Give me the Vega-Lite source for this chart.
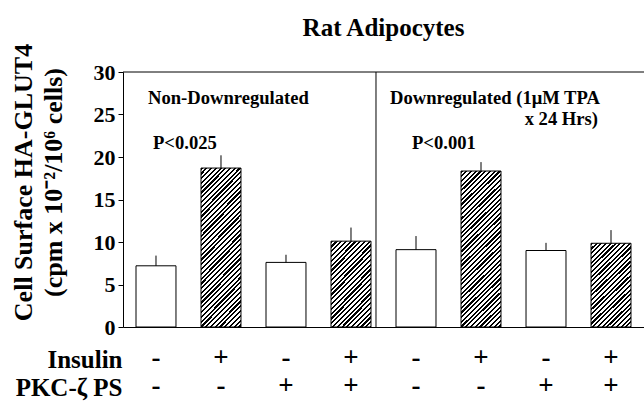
{
  "$schema": "https://vega.github.io/schema/vega-lite/v6.json",
  "width": 521,
  "height": 255,
  "autosize": {"type": "none"},
  "padding": {"left": 123, "top": 72, "right": 0, "bottom": 80},
  "config": {"view": {"stroke": null}, "font": "Liberation Serif"},
  "title": {"text": "Rat Adipocytes", "fontSize": 25, "fontWeight": "bold", "font": "Liberation Serif", "anchor": "middle", "frame": "group", "baseline": "alphabetic", "offset": -18, "color": "black"},
  "data": {"values": [
    {"id": "1|-|-", "group": "Non-Downregulated", "ins": "-", "pkc": "-", "value": 7.2, "upper": 8.4},
    {"id": "2|+|-", "group": "Non-Downregulated", "ins": "+", "pkc": "-", "value": 18.7, "upper": 20.2},
    {"id": "3|-|+", "group": "Non-Downregulated", "ins": "-", "pkc": "+", "value": 7.6, "upper": 8.5},
    {"id": "4|+|+", "group": "Non-Downregulated", "ins": "+", "pkc": "+", "value": 10.1, "upper": 11.7},
    {"id": "5|-|-", "group": "Downregulated", "ins": "-", "pkc": "-", "value": 9.1, "upper": 10.7},
    {"id": "6|+|-", "group": "Downregulated", "ins": "+", "pkc": "-", "value": 18.35, "upper": 19.4},
    {"id": "7|-|+", "group": "Downregulated", "ins": "-", "pkc": "+", "value": 9.0, "upper": 9.9},
    {"id": "8|+|+", "group": "Downregulated", "ins": "+", "pkc": "+", "value": 9.85, "upper": 11.4}
  ]},
  "layer": [
    {
      "mark": {"type": "bar", "stroke": "black", "strokeWidth": 1},
      "encoding": {
        "x": {"field": "id", "type": "nominal", "sort": null,
          "scale": {"domain": ["1|-|-", "2|+|-", "3|-|+", "4|+|+", "5|-|-", "6|+|-", "7|-|+", "8|+|+"], "paddingInner": 0.385, "paddingOuter": 0.2},
          "axis": {
            "title": ["Insulin", "PKC-ζ PS"], "titleFont": "Liberation Serif", "titleFontSize": 25, "titleFontWeight": "bold", "titleColor": "black",
            "titleAlign": "right", "titleX": -1, "titleY": 20, "titleBaseline": "top", "titleLineHeight": 28, "titleAngle": 0,
            "labelExpr": "slice(split(datum.label, '|'), 1)", "labelAngle": 0, "labelAlign": "center", "labelFont": "Liberation Serif", "labelFontSize": 27,
            "labelFontWeight": "bold", "labelColor": "black", "labelBaseline": "top", "labelLineHeight": 28, "labelPadding": 17,
            "ticks": false, "domainColor": "black", "domainWidth": 1, "labelOverlap": false
          }
        },
        "y": {"field": "value", "type": "quantitative",
          "scale": {"domain": [0, 30], "nice": false},
          "axis": {
            "title": ["Cell Surface HA-GLUT4", "(cpm x 10⁻²/10⁶ cells)"], "titleFont": "Liberation Serif", "titleFontSize": 26, "titleFontWeight": "bold", "titleColor": "black",
            "titleAngle": -90, "titleAlign": "center", "titleBaseline": "top", "titleX": -113, "titleY": 110, "titleLineHeight": 30,
            "values": [0, 5, 10, 15, 20, 25, 30], "labelFont": "Liberation Serif", "labelFontSize": 22, "labelFontWeight": "bold", "labelColor": "black",
            "tickColor": "black", "tickSize": 5, "labelPadding": 3, "domainColor": "black", "grid": false
          }
        },
        "fill": {
          "condition": [
            {"test": "datum.ins == '+' && datum.value > 15", "value": {"gradient": "linear", "x1": 0, "y1": 0, "x2": 0.299, "y2": 1.178, "stops": [
              {"offset": 0, "color": "#000"}, {"offset": 0.011, "color": "#000"}, {"offset": 0.011, "color": "#fff"},
              {"offset": 0.024, "color": "#fff"}, {"offset": 0.024, "color": "#000"}, {"offset": 0.035, "color": "#000"}, {"offset": 0.035, "color": "#fff"},
              {"offset": 0.048, "color": "#fff"}, {"offset": 0.048, "color": "#000"}, {"offset": 0.059, "color": "#000"}, {"offset": 0.059, "color": "#fff"},
              {"offset": 0.072, "color": "#fff"}, {"offset": 0.072, "color": "#000"}, {"offset": 0.083, "color": "#000"}, {"offset": 0.083, "color": "#fff"},
              {"offset": 0.096, "color": "#fff"}, {"offset": 0.096, "color": "#000"}, {"offset": 0.107, "color": "#000"}, {"offset": 0.107, "color": "#fff"},
              {"offset": 0.12, "color": "#fff"}, {"offset": 0.12, "color": "#000"}, {"offset": 0.131, "color": "#000"}, {"offset": 0.131, "color": "#fff"},
              {"offset": 0.144, "color": "#fff"}, {"offset": 0.144, "color": "#000"}, {"offset": 0.155, "color": "#000"}, {"offset": 0.155, "color": "#fff"},
              {"offset": 0.168, "color": "#fff"}, {"offset": 0.168, "color": "#000"}, {"offset": 0.179, "color": "#000"}, {"offset": 0.179, "color": "#fff"},
              {"offset": 0.192, "color": "#fff"}, {"offset": 0.192, "color": "#000"}, {"offset": 0.203, "color": "#000"}, {"offset": 0.203, "color": "#fff"},
              {"offset": 0.216, "color": "#fff"}, {"offset": 0.216, "color": "#000"}, {"offset": 0.227, "color": "#000"}, {"offset": 0.227, "color": "#fff"},
              {"offset": 0.24, "color": "#fff"}, {"offset": 0.24, "color": "#000"}, {"offset": 0.251, "color": "#000"}, {"offset": 0.251, "color": "#fff"},
              {"offset": 0.264, "color": "#fff"}, {"offset": 0.264, "color": "#000"}, {"offset": 0.275, "color": "#000"}, {"offset": 0.275, "color": "#fff"},
              {"offset": 0.288, "color": "#fff"}, {"offset": 0.288, "color": "#000"}, {"offset": 0.299, "color": "#000"}, {"offset": 0.299, "color": "#fff"},
              {"offset": 0.312, "color": "#fff"}, {"offset": 0.312, "color": "#000"}, {"offset": 0.323, "color": "#000"}, {"offset": 0.323, "color": "#fff"},
              {"offset": 0.336, "color": "#fff"}, {"offset": 0.336, "color": "#000"}, {"offset": 0.347, "color": "#000"}, {"offset": 0.347, "color": "#fff"},
              {"offset": 0.36, "color": "#fff"}, {"offset": 0.36, "color": "#000"}, {"offset": 0.371, "color": "#000"}, {"offset": 0.371, "color": "#fff"},
              {"offset": 0.384, "color": "#fff"}, {"offset": 0.384, "color": "#000"}, {"offset": 0.395, "color": "#000"}, {"offset": 0.395, "color": "#fff"},
              {"offset": 0.408, "color": "#fff"}, {"offset": 0.408, "color": "#000"}, {"offset": 0.419, "color": "#000"}, {"offset": 0.419, "color": "#fff"},
              {"offset": 0.432, "color": "#fff"}, {"offset": 0.432, "color": "#000"}, {"offset": 0.443, "color": "#000"}, {"offset": 0.443, "color": "#fff"},
              {"offset": 0.456, "color": "#fff"}, {"offset": 0.456, "color": "#000"}, {"offset": 0.467, "color": "#000"}, {"offset": 0.467, "color": "#fff"},
              {"offset": 0.48, "color": "#fff"}, {"offset": 0.48, "color": "#000"}, {"offset": 0.491, "color": "#000"}, {"offset": 0.491, "color": "#fff"},
              {"offset": 0.504, "color": "#fff"}, {"offset": 0.504, "color": "#000"}, {"offset": 0.515, "color": "#000"}, {"offset": 0.515, "color": "#fff"},
              {"offset": 0.528, "color": "#fff"}, {"offset": 0.528, "color": "#000"}, {"offset": 0.539, "color": "#000"}, {"offset": 0.539, "color": "#fff"},
              {"offset": 0.552, "color": "#fff"}, {"offset": 0.552, "color": "#000"}, {"offset": 0.563, "color": "#000"}, {"offset": 0.563, "color": "#fff"},
              {"offset": 0.576, "color": "#fff"}, {"offset": 0.576, "color": "#000"}, {"offset": 0.587, "color": "#000"}, {"offset": 0.587, "color": "#fff"},
              {"offset": 0.6, "color": "#fff"}, {"offset": 0.6, "color": "#000"}, {"offset": 0.611, "color": "#000"}, {"offset": 0.611, "color": "#fff"},
              {"offset": 0.624, "color": "#fff"}, {"offset": 0.624, "color": "#000"}, {"offset": 0.635, "color": "#000"}, {"offset": 0.635, "color": "#fff"},
              {"offset": 0.648, "color": "#fff"}, {"offset": 0.648, "color": "#000"}, {"offset": 0.659, "color": "#000"}, {"offset": 0.659, "color": "#fff"},
              {"offset": 0.672, "color": "#fff"}, {"offset": 0.672, "color": "#000"}, {"offset": 0.683, "color": "#000"}, {"offset": 0.683, "color": "#fff"},
              {"offset": 0.696, "color": "#fff"}, {"offset": 0.696, "color": "#000"}, {"offset": 0.707, "color": "#000"}, {"offset": 0.707, "color": "#fff"},
              {"offset": 0.72, "color": "#fff"}, {"offset": 0.72, "color": "#000"}, {"offset": 0.731, "color": "#000"}, {"offset": 0.731, "color": "#fff"},
              {"offset": 0.744, "color": "#fff"}, {"offset": 0.744, "color": "#000"}, {"offset": 0.755, "color": "#000"}, {"offset": 0.755, "color": "#fff"},
              {"offset": 0.768, "color": "#fff"}, {"offset": 0.768, "color": "#000"}, {"offset": 0.779, "color": "#000"}, {"offset": 0.779, "color": "#fff"},
              {"offset": 0.792, "color": "#fff"}, {"offset": 0.792, "color": "#000"}, {"offset": 0.803, "color": "#000"}, {"offset": 0.803, "color": "#fff"},
              {"offset": 0.816, "color": "#fff"}, {"offset": 0.816, "color": "#000"}, {"offset": 0.827, "color": "#000"}, {"offset": 0.827, "color": "#fff"},
              {"offset": 0.84, "color": "#fff"}, {"offset": 0.84, "color": "#000"}, {"offset": 0.851, "color": "#000"}, {"offset": 0.851, "color": "#fff"},
              {"offset": 0.864, "color": "#fff"}, {"offset": 0.864, "color": "#000"}, {"offset": 0.875, "color": "#000"}, {"offset": 0.875, "color": "#fff"},
              {"offset": 0.888, "color": "#fff"}, {"offset": 0.888, "color": "#000"}, {"offset": 0.899, "color": "#000"}, {"offset": 0.899, "color": "#fff"},
              {"offset": 0.912, "color": "#fff"}, {"offset": 0.912, "color": "#000"}, {"offset": 0.923, "color": "#000"}, {"offset": 0.923, "color": "#fff"},
              {"offset": 0.936, "color": "#fff"}, {"offset": 0.936, "color": "#000"}, {"offset": 0.947, "color": "#000"}, {"offset": 0.947, "color": "#fff"},
              {"offset": 0.96, "color": "#fff"}, {"offset": 0.96, "color": "#000"}, {"offset": 0.971, "color": "#000"}, {"offset": 0.971, "color": "#fff"},
              {"offset": 0.984, "color": "#fff"}, {"offset": 0.984, "color": "#000"}, {"offset": 0.995, "color": "#000"}, {"offset": 0.995, "color": "#fff"},
              {"offset": 1, "color": "#fff"}
            ]}},
            {"test": "datum.ins == '+'", "value": {"gradient": "linear", "x1": 0, "y1": 0, "x2": 0.567, "y2": 1.204, "stops": [
              {"offset": 0, "color": "#000"}, {"offset": 0.0175, "color": "#000"}, {"offset": 0.0175, "color": "#fff"},
              {"offset": 0.038, "color": "#fff"}, {"offset": 0.038, "color": "#000"}, {"offset": 0.0555, "color": "#000"}, {"offset": 0.0555, "color": "#fff"},
              {"offset": 0.076, "color": "#fff"}, {"offset": 0.076, "color": "#000"}, {"offset": 0.0935, "color": "#000"}, {"offset": 0.0935, "color": "#fff"},
              {"offset": 0.114, "color": "#fff"}, {"offset": 0.114, "color": "#000"}, {"offset": 0.1315, "color": "#000"}, {"offset": 0.1315, "color": "#fff"},
              {"offset": 0.152, "color": "#fff"}, {"offset": 0.152, "color": "#000"}, {"offset": 0.1695, "color": "#000"}, {"offset": 0.1695, "color": "#fff"},
              {"offset": 0.19, "color": "#fff"}, {"offset": 0.19, "color": "#000"}, {"offset": 0.2075, "color": "#000"}, {"offset": 0.2075, "color": "#fff"},
              {"offset": 0.228, "color": "#fff"}, {"offset": 0.228, "color": "#000"}, {"offset": 0.2455, "color": "#000"}, {"offset": 0.2455, "color": "#fff"},
              {"offset": 0.266, "color": "#fff"}, {"offset": 0.266, "color": "#000"}, {"offset": 0.2835, "color": "#000"}, {"offset": 0.2835, "color": "#fff"},
              {"offset": 0.304, "color": "#fff"}, {"offset": 0.304, "color": "#000"}, {"offset": 0.3215, "color": "#000"}, {"offset": 0.3215, "color": "#fff"},
              {"offset": 0.342, "color": "#fff"}, {"offset": 0.342, "color": "#000"}, {"offset": 0.3595, "color": "#000"}, {"offset": 0.3595, "color": "#fff"},
              {"offset": 0.38, "color": "#fff"}, {"offset": 0.38, "color": "#000"}, {"offset": 0.3975, "color": "#000"}, {"offset": 0.3975, "color": "#fff"},
              {"offset": 0.418, "color": "#fff"}, {"offset": 0.418, "color": "#000"}, {"offset": 0.4355, "color": "#000"}, {"offset": 0.4355, "color": "#fff"},
              {"offset": 0.456, "color": "#fff"}, {"offset": 0.456, "color": "#000"}, {"offset": 0.4735, "color": "#000"}, {"offset": 0.4735, "color": "#fff"},
              {"offset": 0.494, "color": "#fff"}, {"offset": 0.494, "color": "#000"}, {"offset": 0.5115, "color": "#000"}, {"offset": 0.5115, "color": "#fff"},
              {"offset": 0.532, "color": "#fff"}, {"offset": 0.532, "color": "#000"}, {"offset": 0.5495, "color": "#000"}, {"offset": 0.5495, "color": "#fff"},
              {"offset": 0.57, "color": "#fff"}, {"offset": 0.57, "color": "#000"}, {"offset": 0.5875, "color": "#000"}, {"offset": 0.5875, "color": "#fff"},
              {"offset": 0.608, "color": "#fff"}, {"offset": 0.608, "color": "#000"}, {"offset": 0.6255, "color": "#000"}, {"offset": 0.6255, "color": "#fff"},
              {"offset": 0.646, "color": "#fff"}, {"offset": 0.646, "color": "#000"}, {"offset": 0.6635, "color": "#000"}, {"offset": 0.6635, "color": "#fff"},
              {"offset": 0.684, "color": "#fff"}, {"offset": 0.684, "color": "#000"}, {"offset": 0.7015, "color": "#000"}, {"offset": 0.7015, "color": "#fff"},
              {"offset": 0.722, "color": "#fff"}, {"offset": 0.722, "color": "#000"}, {"offset": 0.7395, "color": "#000"}, {"offset": 0.7395, "color": "#fff"},
              {"offset": 0.76, "color": "#fff"}, {"offset": 0.76, "color": "#000"}, {"offset": 0.7775, "color": "#000"}, {"offset": 0.7775, "color": "#fff"},
              {"offset": 0.798, "color": "#fff"}, {"offset": 0.798, "color": "#000"}, {"offset": 0.8155, "color": "#000"}, {"offset": 0.8155, "color": "#fff"},
              {"offset": 0.836, "color": "#fff"}, {"offset": 0.836, "color": "#000"}, {"offset": 0.8535, "color": "#000"}, {"offset": 0.8535, "color": "#fff"},
              {"offset": 0.874, "color": "#fff"}, {"offset": 0.874, "color": "#000"}, {"offset": 0.8915, "color": "#000"}, {"offset": 0.8915, "color": "#fff"},
              {"offset": 0.912, "color": "#fff"}, {"offset": 0.912, "color": "#000"}, {"offset": 0.9295, "color": "#000"}, {"offset": 0.9295, "color": "#fff"},
              {"offset": 0.95, "color": "#fff"}, {"offset": 0.95, "color": "#000"}, {"offset": 0.9675, "color": "#000"}, {"offset": 0.9675, "color": "#fff"},
              {"offset": 0.988, "color": "#fff"}, {"offset": 0.988, "color": "#000"}, {"offset": 1, "color": "#000"}
            ]}}
          ],
          "value": "white"
        }
      }
    },
    {
      "mark": {"type": "rule", "color": "black", "strokeWidth": 1},
      "encoding": {
        "x": {"field": "id", "type": "nominal", "sort": null},
        "y": {"field": "value", "type": "quantitative"},
        "y2": {"field": "upper"}
      }
    },
    {
      "data": {"values": [{}]},
      "mark": {"type": "rule", "color": "black", "strokeWidth": 1},
      "encoding": {"y": {"datum": 30}}
    },
    {
      "data": {"values": [{}]},
      "mark": {"type": "rule", "color": "black", "strokeWidth": 1, "xOffset": 5},
      "encoding": {"x": {"datum": "4|+|+", "bandPosition": 1}}
    },
    {
      "data": {"values": [{"label": "Non-Downregulated", "id": "1|-|-", "y": 26.94}]},
      "mark": {"type": "text", "align": "left", "baseline": "middle", "dx": 12, "fontSize": 18.6, "fontWeight": "bold", "font": "Liberation Serif", "color": "black"},
      "encoding": {"x": {"field": "id", "type": "nominal", "bandPosition": 0}, "y": {"field": "y", "type": "quantitative"}, "text": {"field": "label"}}
    },
    {
      "data": {"values": [{"label": "P<0.025", "id": "1|-|-", "y": 21.65}]},
      "mark": {"type": "text", "align": "left", "baseline": "middle", "dx": 17, "fontSize": 18.6, "fontWeight": "bold", "font": "Liberation Serif", "color": "black"},
      "encoding": {"x": {"field": "id", "type": "nominal", "bandPosition": 0}, "y": {"field": "y", "type": "quantitative"}, "text": {"field": "label"}}
    },
    {
      "data": {"values": [{"label": "Downregulated (1μM TPA", "id": "5|-|-", "y": 26.94}]},
      "mark": {"type": "text", "align": "left", "baseline": "middle", "dx": -6, "fontSize": 18.6, "fontWeight": "bold", "font": "Liberation Serif", "color": "black"},
      "encoding": {"x": {"field": "id", "type": "nominal", "bandPosition": 0}, "y": {"field": "y", "type": "quantitative"}, "text": {"field": "label"}}
    },
    {
      "data": {"values": [{"label": "P<0.001", "id": "5|-|-", "y": 21.65}]},
      "mark": {"type": "text", "align": "left", "baseline": "middle", "dx": 16, "fontSize": 18.6, "fontWeight": "bold", "font": "Liberation Serif", "color": "black"},
      "encoding": {"x": {"field": "id", "type": "nominal", "bandPosition": 0}, "y": {"field": "y", "type": "quantitative"}, "text": {"field": "label"}}
    },
    {
      "data": {"values": [{"label": "x 24 Hrs)", "id": "8|+|+", "y": 24.47}]},
      "mark": {"type": "text", "align": "right", "baseline": "middle", "dx": 7, "fontSize": 18.6, "fontWeight": "bold", "font": "Liberation Serif", "color": "black"},
      "encoding": {"x": {"field": "id", "type": "nominal", "bandPosition": 0}, "y": {"field": "y", "type": "quantitative"}, "text": {"field": "label"}}
    }
  ]
}
